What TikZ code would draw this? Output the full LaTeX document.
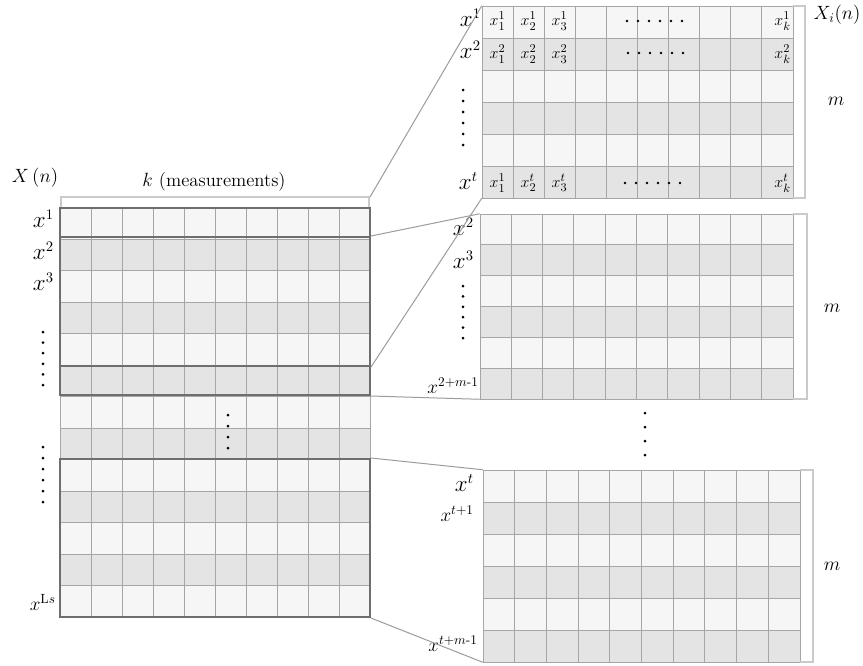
\documentclass[tikz,border=0pt]{standalone}
\usepackage{amsmath}
\usetikzlibrary{fit}
\definecolor{cellA}{HTML}{F6F6F6}
\definecolor{cellB}{HTML}{E4E4E4}
\definecolor{gridc}{HTML}{A6A6A6}
\definecolor{thickc}{HTML}{6E6E6E}
\definecolor{linkc}{HTML}{9C9C9C}
\definecolor{brkc}{HTML}{CACACA}
% grid: x0 y0 x1 y1 rows (10 columns)
\newcommand{\mgrid}[5]{%
  \pgfmathsetmacro{\mrh}{(#4-#2)/#5}%
  \pgfmathsetmacro{\mcw}{(#3-#1)/10}%
  \foreach \r in {1,...,#5}{%
    \pgfmathsetmacro{\mya}{#2+(\r-1)*\mrh}%
    \pgfmathsetmacro{\myb}{#2+\r*\mrh}%
    \ifodd\r \fill[cellA] (#1,\mya) rectangle (#3,\myb);
    \else \fill[cellB] (#1,\mya) rectangle (#3,\myb); \fi
  }%
  \foreach \c in {0,...,10}{%
    \pgfmathsetmacro{\mxa}{#1+\c*\mcw}%
    \draw[gridc, line width=0.75pt] (\mxa,#2) -- (\mxa,#4);
  }%
  \foreach \r in {0,...,#5}{%
    \pgfmathsetmacro{\mya}{#2+\r*\mrh}%
    \draw[gridc, line width=0.75pt] (#1,\mya) -- (#3,\mya);
  }%
}
% vertical dots: x y0 step count
\newcommand{\vdotcol}[4]{%
  \foreach \i in {1,...,#4}{\fill[black] (#1,{#2+(\i-1)*#3}) circle (1.5);}%
}
% horizontal dots: x0 y step count
\newcommand{\hdotrow}[4]{%
  \foreach \i in {1,...,#4}{\fill[black] ({#1+(\i-1)*#3},#2) circle (1.4);}%
}
\begin{document}
\begin{tikzpicture}[x=0.75pt,y=-0.75pt,
  every node/.style={font=\fontsize{14}{16}\selectfont, inner sep=1pt},
  link/.style={draw=linkc, line width=0.75pt},
  brk/.style={draw=brkc, line width=0.8pt},
  win/.style={draw=thickc, line width=1.5pt, inner sep=0pt},
  mbox/.style={inner sep=0pt},
  rowlab/.style={anchor=east, inner sep=0pt, font=\fontsize{16}{17}\selectfont},
  longlab/.style={anchor=east, inner sep=0pt, font=\fontsize{14.5}{16}\selectfont},
  cell/.style={font=\fontsize{12.5}{13}\selectfont, inner sep=0pt}]
\fill[white] (0,0) rectangle (863,665);
\useasboundingbox (0,0) rectangle (863,665);

% ---------- left matrix ----------
\mgrid{60}{208}{370}{617}{13}
\node[mbox, fit={(60,208)(370,617)}] (L) {};
\node[win, fit={(60,208)(370,366)}] (W1) {};
\node[win, fit={(60,237)(370,395)}] (W2) {};
\node[win, fit={(60,459)(370,617)}] (W3) {};
\draw[brk] (61,207) -- (61,197) -- (369,197) -- (369,207);
\coordinate (kb) at (370,197);

\node (Xn) at (35,178) {$X\,(n)$};
\node (kmeas) at (214,182) {$k$ (measurements)};
\node[rowlab] (l1) at (54,219) {$x^{1}$};
\node[rowlab] (l2) at (54,251) {$x^{2}$};
\node[rowlab] (l3) at (54,282) {$x^{3}$};
\node[longlab] (lLs) at (56,602) {$x^{\mathrm{L}s}$};
\vdotcol{43}{332}{10.6}{6}
\vdotcol{43}{447}{11}{6}
\vdotcol{228}{415}{11}{4}

% ---------- top right matrix ----------
\mgrid{482}{6}{793}{198}{6}
\node[mbox, fit={(482,6)(793,198)}] (T) {};
\draw[brk] (793,6) -- (805,6) -- (805,198) -- (793,198);
\node[rowlab] (t1) at (481,18) {$x^{1}$};
\node[rowlab] (t2) at (481,50) {$x^{2}$};
\node[rowlab] (tt) at (478,181) {$x^{t}$};
\vdotcol{463}{90}{11}{6}
\node[cell] (c11) at (497.5,21) {$x_1^1$};
\node[cell] (c21) at (528.5,21) {$x_2^1$};
\node[cell] (c31) at (559.5,21) {$x_3^1$};
\node[cell, anchor=east] (ck1) at (791,21) {$x_k^1$};
\node[cell] (c12) at (497.5,54) {$x_1^2$};
\node[cell] (c22) at (528.5,54) {$x_2^2$};
\node[cell] (c32) at (559.5,54) {$x_3^2$};
\node[cell, anchor=east] (ck2) at (791,54) {$x_k^2$};
\node[cell] (c1t) at (497.5,183) {$x_1^1$};
\node[cell] (c2t) at (528.5,183) {$x_2^t$};
\node[cell] (c3t) at (559.5,183) {$x_3^t$};
\node[cell, anchor=east] (ckt) at (791,183) {$x_k^t$};
\hdotrow{627}{21}{11}{6}
\hdotrow{628}{53}{11}{6}
\hdotrow{625}{183}{11}{6}
\node (Xi) at (837,15) {$X_i(n)$};
\node (m1) at (836,101) {$m$};

% ---------- middle right matrix ----------
\mgrid{480}{214}{793}{399}{6}
\node[mbox, fit={(480,214)(793,399)}] (M) {};
\draw[brk] (793,214) -- (807,214) -- (807,399) -- (793,399);
\node[rowlab] (m2) at (474,227) {$x^{2}$};
\node[rowlab] (m3) at (474,260) {$x^{3}$};
\node[longlab] (mm) at (479,386) {$x^{2+m\text{-}1}$};
\vdotcol{463}{286}{10.4}{6}
\node (m2l) at (832,308) {$m$};

\vdotcol{645}{413}{14}{4}

% ---------- bottom right matrix ----------
\mgrid{483}{470}{800}{662}{6}
\node[mbox, fit={(483,470)(800,662)}] (B) {};
\draw[brk] (800,470) -- (813,470) -- (813,662) -- (800,662);
\node[rowlab] (bt) at (474,483) {$x^{t}$};
\node[longlab] (bt1) at (474,514) {$x^{t+1}$};
\node[longlab] (btm) at (478,644) {$x^{t+m\text{-}1}$};
\node (m3l) at (832,566) {$m$};

% ---------- connectors ----------
\draw[link] (kb) -- (T.north west);
\draw[link] (W1.south east) -- (T.south west);
\draw[link] (W2.north east) -- (M.north west);
\draw[link] (W2.south east) -- (M.south west);
\draw[link] (W3.north east) -- (B.north west);
\draw[link] (W3.south east) -- (B.south west);
\end{tikzpicture}
\end{document}
